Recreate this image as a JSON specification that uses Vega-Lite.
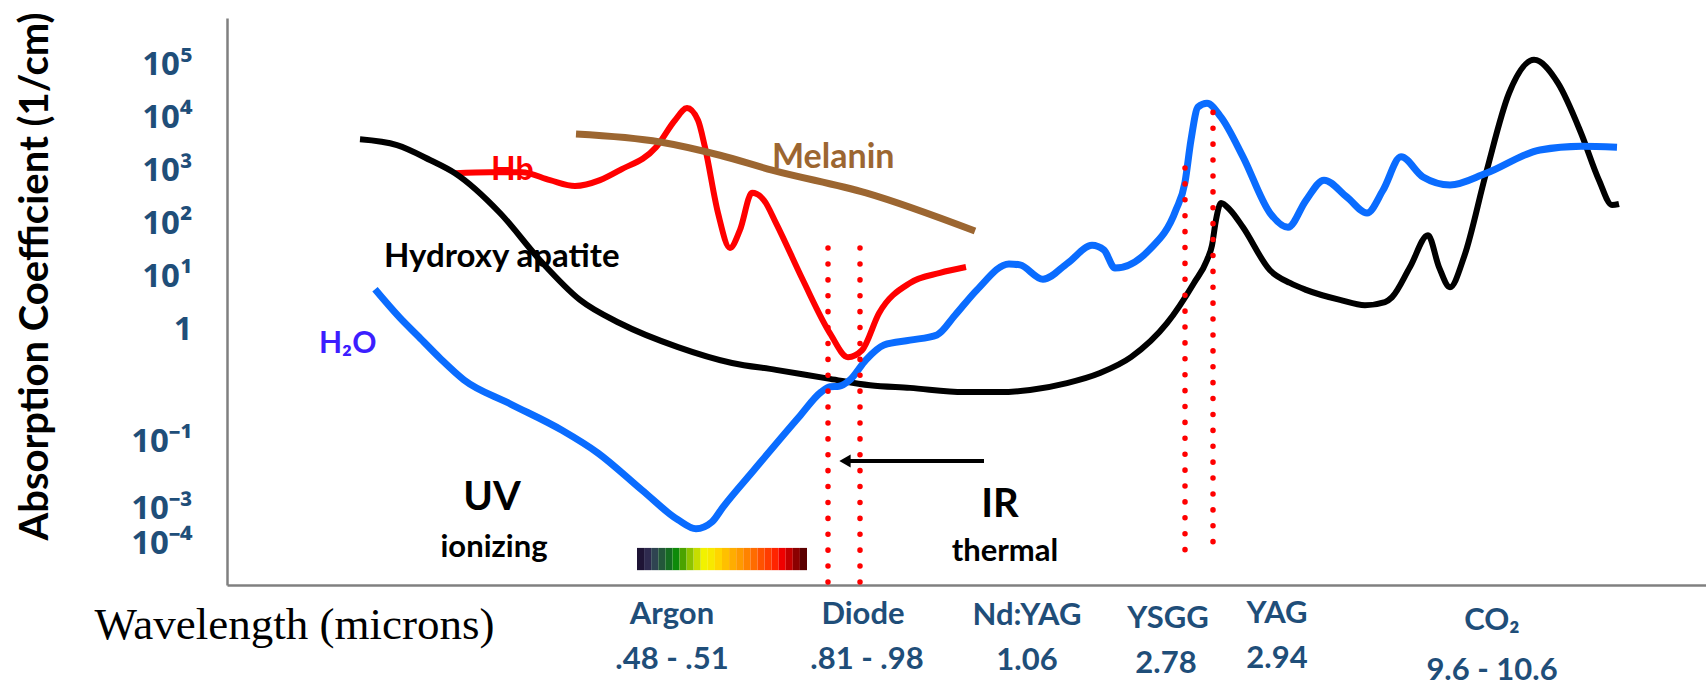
{
  "$schema": "https://vega.github.io/schema/vega-lite/v6.json",
  "width": 1479,
  "height": 567,
  "autosize": "none",
  "padding": {"left": 227, "top": 18, "right": 0, "bottom": 102},
  "config": {"view": {"stroke": null}},
  "datasets": {
    "hydroxy": [
      {"x": 133, "y": 3.58}, {"x": 170, "y": 3.47}, {"x": 203, "y": 3.19}, {"x": 228, "y": 2.94},
      {"x": 273, "y": 2.19}, {"x": 313, "y": 1.30}, {"x": 353, "y": 0.55}, {"x": 393, "y": 0.11},
      {"x": 451, "y": -0.34}, {"x": 505, "y": -0.64}, {"x": 549, "y": -0.77}, {"x": 603, "y": -0.94},
      {"x": 643, "y": -1.06}, {"x": 683, "y": -1.11}, {"x": 737, "y": -1.19}, {"x": 773, "y": -1.19},
      {"x": 803, "y": -1.15}, {"x": 840, "y": -1.02}, {"x": 873, "y": -0.83}, {"x": 904, "y": -0.53},
      {"x": 940, "y": 0.11}, {"x": 967, "y": 0.87}, {"x": 980, "y": 1.30}, {"x": 985, "y": 1.58},
      {"x": 989, "y": 2.06}, {"x": 994, "y": 2.38}, {"x": 1003, "y": 2.25}, {"x": 1016, "y": 1.92},
      {"x": 1043, "y": 1.11}, {"x": 1063, "y": 0.87}, {"x": 1079, "y": 0.74}, {"x": 1113, "y": 0.55},
      {"x": 1138, "y": 0.45}, {"x": 1158, "y": 0.51}, {"x": 1165, "y": 0.60}, {"x": 1183, "y": 1.17},
      {"x": 1201, "y": 1.77}, {"x": 1212, "y": 1.17}, {"x": 1223, "y": 0.79}, {"x": 1237, "y": 1.36},
      {"x": 1259, "y": 2.94}, {"x": 1282, "y": 4.45}, {"x": 1307, "y": 5.08}, {"x": 1331, "y": 4.64},
      {"x": 1354, "y": 3.70}, {"x": 1372, "y": 2.81}, {"x": 1385, "y": 2.34}, {"x": 1392, "y": 2.36}
    ],
    "hb": [
      {"x": 228, "y": 2.94}, {"x": 263, "y": 2.96}, {"x": 295, "y": 2.96}, {"x": 323, "y": 2.81},
      {"x": 348, "y": 2.70}, {"x": 373, "y": 2.81}, {"x": 393, "y": 3.00}, {"x": 429, "y": 3.43},
      {"x": 448, "y": 3.94}, {"x": 460, "y": 4.17}, {"x": 471, "y": 3.94}, {"x": 478, "y": 3.43},
      {"x": 491, "y": 2.19}, {"x": 503, "y": 1.53}, {"x": 513, "y": 1.87}, {"x": 525, "y": 2.57},
      {"x": 537, "y": 2.43}, {"x": 549, "y": 2.00}, {"x": 576, "y": 0.92}, {"x": 603, "y": -0.08},
      {"x": 621, "y": -0.53}, {"x": 635, "y": -0.40}, {"x": 652, "y": 0.30}, {"x": 683, "y": 0.87},
      {"x": 713, "y": 1.06}, {"x": 739, "y": 1.17}
    ],
    "melanin": [
      {"x": 349, "y": 3.68}, {"x": 433, "y": 3.53}, {"x": 493, "y": 3.28}, {"x": 545, "y": 3.00},
      {"x": 639, "y": 2.57}, {"x": 748, "y": 1.85}
    ],
    "water": [
      {"x": 148, "y": 0.75}, {"x": 173, "y": 0.21}, {"x": 192, "y": -0.15}, {"x": 213, "y": -0.55},
      {"x": 237, "y": -0.96}, {"x": 282, "y": -1.40}, {"x": 335, "y": -1.91}, {"x": 371, "y": -2.34},
      {"x": 415, "y": -3.04}, {"x": 451, "y": -3.60}, {"x": 469, "y": -3.77}, {"x": 485, "y": -3.64},
      {"x": 496, "y": -3.36}, {"x": 527, "y": -2.66}, {"x": 572, "y": -1.66}, {"x": 594, "y": -1.19},
      {"x": 603, "y": -1.09}, {"x": 612, "y": -1.08}, {"x": 623, "y": -0.96}, {"x": 639, "y": -0.58},
      {"x": 657, "y": -0.30}, {"x": 683, "y": -0.21}, {"x": 710, "y": -0.11}, {"x": 728, "y": 0.26},
      {"x": 750, "y": 0.74}, {"x": 782, "y": 1.23}, {"x": 793, "y": 1.21}, {"x": 816, "y": 0.94},
      {"x": 841, "y": 1.25}, {"x": 865, "y": 1.58}, {"x": 877, "y": 1.49}, {"x": 888, "y": 1.15},
      {"x": 922, "y": 1.49}, {"x": 949, "y": 2.25}, {"x": 958, "y": 2.77}, {"x": 964, "y": 3.57},
      {"x": 971, "y": 4.19}, {"x": 980, "y": 4.26}, {"x": 994, "y": 4.00}, {"x": 1016, "y": 3.25},
      {"x": 1043, "y": 2.19}, {"x": 1061, "y": 1.92}, {"x": 1079, "y": 2.43}, {"x": 1097, "y": 2.81},
      {"x": 1120, "y": 2.49}, {"x": 1140, "y": 2.19}, {"x": 1156, "y": 2.62}, {"x": 1174, "y": 3.25},
      {"x": 1196, "y": 2.87}, {"x": 1223, "y": 2.72}, {"x": 1259, "y": 2.94}, {"x": 1313, "y": 3.38},
      {"x": 1354, "y": 3.45}, {"x": 1390, "y": 3.43}
    ],
    "lasers": [
      {"laser": "Diode .81", "x": 601, "y": 1.53, "y2": -4.89},
      {"laser": "Diode .98", "x": 633, "y": 1.53, "y2": -4.89},
      {"laser": "YSGG", "x": 958, "y": 3.04, "y2": -4.21},
      {"laser": "YAG", "x": 986, "y": 4.09, "y2": -4.08}
    ],
    "spectrum": [
      {"seg": 1, "x": 410, "x2": 417.08, "y": -4.13, "y2": -4.55},
      {"seg": 2, "x": 417.08, "x2": 424.17, "y": -4.13, "y2": -4.55},
      {"seg": 3, "x": 424.17, "x2": 431.25, "y": -4.13, "y2": -4.55},
      {"seg": 4, "x": 431.25, "x2": 438.33, "y": -4.13, "y2": -4.55},
      {"seg": 5, "x": 438.33, "x2": 445.42, "y": -4.13, "y2": -4.55},
      {"seg": 6, "x": 445.42, "x2": 452.5, "y": -4.13, "y2": -4.55},
      {"seg": 7, "x": 452.5, "x2": 459.58, "y": -4.13, "y2": -4.55},
      {"seg": 8, "x": 459.58, "x2": 466.67, "y": -4.13, "y2": -4.55},
      {"seg": 9, "x": 466.67, "x2": 473.75, "y": -4.13, "y2": -4.55},
      {"seg": 10, "x": 473.75, "x2": 480.83, "y": -4.13, "y2": -4.55},
      {"seg": 11, "x": 480.83, "x2": 487.92, "y": -4.13, "y2": -4.55},
      {"seg": 12, "x": 487.92, "x2": 495, "y": -4.13, "y2": -4.55},
      {"seg": 13, "x": 495, "x2": 502.08, "y": -4.13, "y2": -4.55},
      {"seg": 14, "x": 502.08, "x2": 509.17, "y": -4.13, "y2": -4.55},
      {"seg": 15, "x": 509.17, "x2": 516.25, "y": -4.13, "y2": -4.55},
      {"seg": 16, "x": 516.25, "x2": 523.33, "y": -4.13, "y2": -4.55},
      {"seg": 17, "x": 523.33, "x2": 530.42, "y": -4.13, "y2": -4.55},
      {"seg": 18, "x": 530.42, "x2": 537.5, "y": -4.13, "y2": -4.55},
      {"seg": 19, "x": 537.5, "x2": 544.58, "y": -4.13, "y2": -4.55},
      {"seg": 20, "x": 544.58, "x2": 551.67, "y": -4.13, "y2": -4.55},
      {"seg": 21, "x": 551.67, "x2": 558.75, "y": -4.13, "y2": -4.55},
      {"seg": 22, "x": 558.75, "x2": 565.83, "y": -4.13, "y2": -4.55},
      {"seg": 23, "x": 565.83, "x2": 572.92, "y": -4.13, "y2": -4.55},
      {"seg": 24, "x": 572.92, "x2": 580, "y": -4.13, "y2": -4.55}
    ],
    "laserLabels": [
      {"text": "Argon", "x": 445, "y": -5.57},
      {"text": ".48 - .51", "x": 445, "y": -6.42},
      {"text": "Diode", "x": 636, "y": -5.57},
      {"text": ".81 - .98", "x": 640, "y": -6.42},
      {"text": "Nd:YAG", "x": 800, "y": -5.58},
      {"text": "1.06", "x": 800, "y": -6.43},
      {"text": "YSGG", "x": 941, "y": -5.64},
      {"text": "2.78", "x": 939, "y": -6.49},
      {"text": "YAG", "x": 1050, "y": -5.55},
      {"text": "2.94", "x": 1050, "y": -6.40},
      {"text": "CO₂", "x": 1265, "y": -5.68},
      {"text": "9.6 - 10.6", "x": 1265, "y": -6.62}
    ]
  },
  "encoding": {
    "x": {
      "field": "x", "type": "quantitative",
      "scale": {"domain": [0, 1479], "nice": false, "zero": false},
      "axis": {
        "labels": false, "ticks": false, "grid": false,
        "domainColor": "#808080", "domainWidth": 2.5,
        "title": "Wavelength (microns)",
        "titleFont": "Liberation Serif", "titleFontWeight": "normal", "titleFontSize": 45,
        "titleColor": "#000000", "titleX": 67, "titleY": 53,
        "titleAlign": "center", "titleBaseline": "alphabetic"
      }
    },
    "y": {
      "field": "y", "type": "quantitative",
      "scale": {"domain": [-4.83, 5.87], "nice": false, "zero": false},
      "axis": {
        "values": [5, 4, 3, 2, 1, 0, -2.13, -3.38, -4.04],
        "labelExpr": "datum.value == 5 ? '10⁵' : datum.value == 4 ? '10⁴' : datum.value == 3 ? '10³' : datum.value == 2 ? '10²' : datum.value == 1 ? '10¹' : datum.value == 0 ? '1' : datum.value == -2.13 ? '10⁻¹' : datum.value == -3.38 ? '10⁻³' : '10⁻⁴'",
        "labelFont": "Open Sans", "labelFontWeight": "bold", "labelFontSize": 33,
        "labelColor": "#1F4E79", "labelPadding": 35, "labelOverlap": false,
        "labelBound": false, "labelFlush": false, "labelBaseline": "middle",
        "ticks": false, "grid": false,
        "domainColor": "#808080", "domainWidth": 2.5,
        "title": "Absorption Coefficient (1/cm)",
        "titleFont": "Lato", "titleFontWeight": "bold", "titleFontSize": 40,
        "titleColor": "#000000", "titleAngle": -90, "titleX": -180, "titleY": 258,
        "titleAlign": "center", "titleBaseline": "alphabetic"
      }
    }
  },
  "layer": [
    {
      "data": {"values": [{"text": "Hydroxy apatite", "x": 157, "y": 1.17}]},
      "mark": {"type": "text", "align": "left", "baseline": "alphabetic", "font": "Lato", "fontWeight": "bold", "fontSize": 33, "color": "#000000"},
      "encoding": {"text": {"field": "text"}}
    },
    {
      "data": {"values": [{"text": "Hb", "x": 264, "y": 2.81}]},
      "mark": {"type": "text", "align": "left", "baseline": "alphabetic", "font": "Lato", "fontWeight": "bold", "fontSize": 32, "color": "#FF0000"},
      "encoding": {"text": {"field": "text"}}
    },
    {
      "data": {"values": [{"text": "Melanin", "x": 545, "y": 3.04}]},
      "mark": {"type": "text", "align": "left", "baseline": "alphabetic", "font": "Lato", "fontWeight": "bold", "fontSize": 34, "color": "#9C6631"},
      "encoding": {"text": {"field": "text"}}
    },
    {
      "data": {"values": [{"text": "H₂O", "x": 92, "y": -0.45}]},
      "mark": {"type": "text", "align": "left", "baseline": "alphabetic", "font": "Lato", "fontWeight": "bold", "fontSize": 30, "color": "#3C1EFF"},
      "encoding": {"text": {"field": "text"}}
    },
    {
      "data": {"values": [{"text": "UV", "x": 265, "y": -3.42}, {"text": "IR", "x": 773, "y": -3.55}]},
      "mark": {"type": "text", "align": "center", "baseline": "alphabetic", "font": "Lato", "fontWeight": "bold", "fontSize": 40, "color": "#000000"},
      "encoding": {"text": {"field": "text"}}
    },
    {
      "data": {"values": [{"text": "ionizing", "x": 267, "y": -4.30}, {"text": "thermal", "x": 778, "y": -4.38}]},
      "mark": {"type": "text", "align": "center", "baseline": "alphabetic", "font": "Lato", "fontWeight": "bold", "fontSize": 31, "color": "#000000"},
      "encoding": {"text": {"field": "text"}}
    },
    {
      "data": {"name": "laserLabels"},
      "mark": {"type": "text", "align": "center", "baseline": "alphabetic", "font": "Lato", "fontWeight": "bold", "fontSize": 31, "color": "#1F4E79"},
      "encoding": {"text": {"field": "text"}}
    },
    {
      "data": {"name": "spectrum"},
      "mark": {"type": "rect"},
      "encoding": {
        "x2": {"field": "x2"},
        "y2": {"field": "y2"},
        "color": {
          "field": "seg", "type": "ordinal", "legend": null,
          "scale": {"range": ["#1E1435", "#2E2A4E", "#2F4451", "#23573A", "#166C22", "#0E8A0A", "#4BA300", "#8DC300", "#C6DD00", "#F2F200", "#F8E800", "#FFD500", "#FFC000", "#FFAD00", "#FF9A00", "#FF8300", "#FF6C00", "#FF5200", "#FF3C00", "#FF2400", "#F00000", "#C30000", "#8B0000", "#5C0000"]}
        }
      }
    },
    {
      "data": {"name": "hb"},
      "mark": {"type": "line", "interpolate": "monotone", "color": "#FF0000", "strokeWidth": 6},
      "encoding": {}
    },
    {
      "data": {"name": "melanin"},
      "mark": {"type": "line", "interpolate": "monotone", "color": "#9C6631", "strokeWidth": 7},
      "encoding": {}
    },
    {
      "data": {"name": "hydroxy"},
      "mark": {"type": "line", "interpolate": "monotone", "color": "#000000", "strokeWidth": 6},
      "encoding": {}
    },
    {
      "data": {"name": "water"},
      "mark": {"type": "line", "interpolate": "monotone", "color": "#0A6CFF", "strokeWidth": 7},
      "encoding": {}
    },
    {
      "data": {"name": "lasers"},
      "mark": {"type": "rule", "color": "#FF0000", "strokeWidth": 5.5, "strokeCap": "round", "strokeDash": [0.1, 15.8]},
      "encoding": {"y2": {"field": "y2"}}
    },
    {
      "data": {"values": [{"x": 620, "x2": 757, "y": -2.49}]},
      "mark": {"type": "rule", "color": "#000000", "strokeWidth": 4},
      "encoding": {"x2": {"field": "x2"}}
    },
    {
      "data": {"values": [{"x": 618, "y": -2.49}]},
      "mark": {"type": "point", "shape": "triangle-left", "filled": true, "color": "#000000", "size": 170, "opacity": 1},
      "encoding": {}
    }
  ]
}
